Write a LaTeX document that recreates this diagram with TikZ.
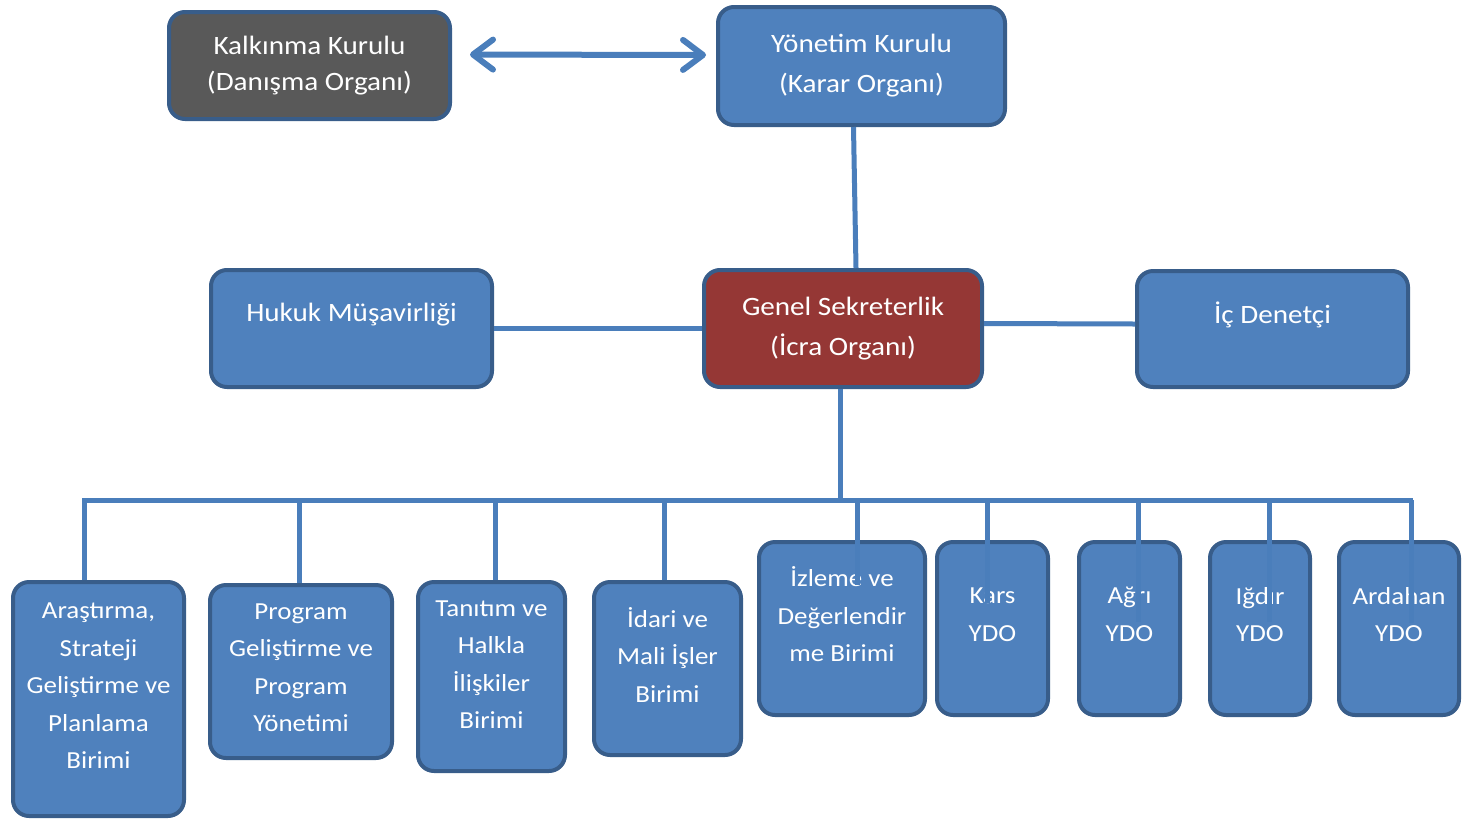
\documentclass[tikz,border=0pt]{standalone}
\usepackage{fontspec}
\setmainfont{Carlito}[FakeStretch=1.1]
\usetikzlibrary{arrows.meta,calc}

\definecolor{boxblue}{HTML}{4F81BD}
\definecolor{boxedge}{HTML}{385D8A}
\definecolor{linkblue}{HTML}{4A7EBB}
\definecolor{boxgray}{HTML}{595959}
\definecolor{boxred}{HTML}{953735}

\begin{document}
\begin{tikzpicture}[%
    >={Straight Barb[round,length=20pt,width=30pt]},
    x=1pt, y=-1pt,
    unit/.style={draw=boxedge, fill=boxblue, line width=4pt, rounded corners=16pt, inner sep=0pt},
    txt/.style={text=white, align=center, font=\fontsize{26.5}{40}\selectfont},
    subtxt/.style={text=white, align=center, font=\fontsize{24.5}{37.5}\selectfont},
    link/.style={draw=linkblue, line width=5pt}
    ]

    \useasboundingbox (0,0) rectangle (1478,820);

    % top level
    \node[unit, fill=boxgray, minimum width=281pt, minimum height=107pt,
        label={[txt,font=\fontsize{26.5}{36}\selectfont]center:Kalkınma Kurulu\\(Danışma Organı)}] (kalkinma) at (309.5,65.5) {};
    \node[unit, minimum width=287pt, minimum height=118pt,
        label={[txt]center:Yönetim Kurulu\\(Karar Organı)}] (yonetim) at (861.5,66) {};

    % middle level
    \node[unit, minimum width=281pt, minimum height=117pt,
        label={[txt,yshift=14pt]center:Hukuk Müşavirliği}] (hukuk) at (351.5,328.5) {};
    \node[unit, fill=boxred, minimum width=278pt, minimum height=117pt,
        label={[txt]center:Genel Sekreterlik\\(İcra Organı)}] (genel) at (843,328.5) {};
    \node[unit, minimum width=271pt, minimum height=116pt,
        label={[txt,yshift=14pt]center:İç Denetçi}] (ic) at (1272.5,329) {};

    % units
    \node[unit, minimum width=171pt, minimum height=234pt,
        label={[subtxt,yshift=13pt]center:Araştırma,\\Strateji\\Geliştirme ve\\Planlama\\Birimi}] (arastirma) at (98.5,699) {};
    \node[unit, minimum width=182pt, minimum height=173pt,
        label={[subtxt,yshift=4pt]center:Program\\Geliştirme ve\\Program\\Yönetimi}] (program) at (301,671.5) {};
    \node[unit, minimum width=147pt, minimum height=189pt,
        label={[subtxt,yshift=12pt]center:Tanıtım ve\\Halkla\\İlişkiler\\Birimi}] (tanitim) at (491.5,676.5) {};
    \node[unit, minimum width=147pt, minimum height=173pt,
        label={[subtxt,yshift=14pt]center:İdari ve\\Mali İşler\\Birimi}] (idari) at (667.5,668.5) {};
    \node[unit, minimum width=166pt, minimum height=173pt,
        label={[subtxt,yshift=14pt]center:İzleme ve\\Değerlendir\\me Birimi}] (izleme) at (842,628.5) {};
    \node[unit, minimum width=111pt, minimum height=173pt,
        label={[subtxt,yshift=14pt]center:Kars\\YDO}] (kars) at (992.5,628.5) {};
    \node[unit, minimum width=101pt, minimum height=173pt,
        label={[subtxt,yshift=14pt]center:Ağrı\\YDO}] (agri) at (1129.5,628.5) {};
    \node[unit, minimum width=100pt, minimum height=173pt,
        label={[subtxt,yshift=14pt]center:Iğdır\\YDO}] (igdir) at (1260,628.5) {};
    \node[unit, minimum width=120pt, minimum height=173pt,
        label={[subtxt,yshift=14pt]center:Ardahan\\YDO}] (ardahan) at (1399,628.5) {};

    % connectors
    \draw[link, line width=6pt, <->, shorten <=18pt, shorten >=10pt]
        ([yshift=11pt]kalkinma.east) -- ([yshift=11pt]yonetim.west);
    \draw[link] ([xshift=-8pt]yonetim.south) -- ([xshift=13pt]genel.north);
    \draw[link] (hukuk.east) -- (genel.west);
    \draw[link] ([yshift=5pt]genel.east) -- ([yshift=5pt]ic.west);

    \coordinate (busL) at (82,500);
    \coordinate (busR) at (1413,500);
    \draw[link] ([xshift=-3pt]genel.south) -- ([xshift=-3pt]genel.south |- busL);
    \draw[link] (busL) -- (busR);

    \foreach \n/\dx/\dy in {arastirma/-14.5/0, program/-2/0, tanitim/3.5/0, idari/-3.5/0,
        izleme/15/45, kars/-5.5/63, agri/8.5/82, igdir/9/82, ardahan/12/83} {
        \coordinate (drop) at ($(\n.north)+(\dx,0)$);
        \draw[link] (drop |- busL) -- ($(drop)+(0,\dy)$);
    }

\end{tikzpicture}
\end{document}
